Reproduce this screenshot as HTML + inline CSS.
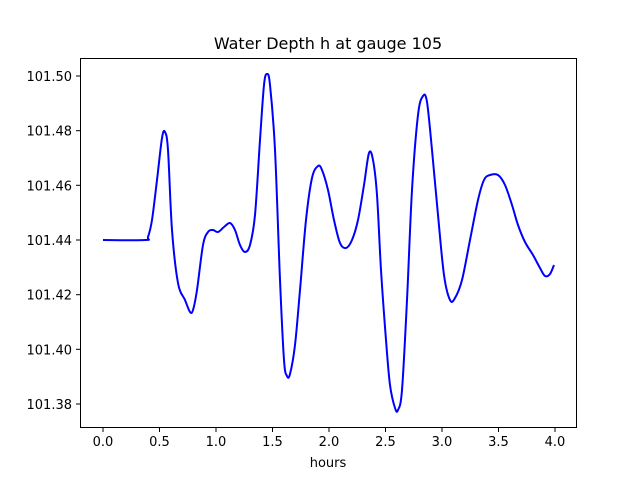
<!DOCTYPE html>
<html><head><style>body{margin:0;background:#fff}svg{display:block}text{font-family:"DejaVu Sans","Liberation Sans",sans-serif;font-size:13px;fill:#000}</style></head><body>
<svg width="640" height="480" xmlns="http://www.w3.org/2000/svg">
<rect width="640" height="480" fill="#fff"/>
<text x="328" y="49" text-anchor="middle" style="font-size:16px">Water Depth h at gauge 105</text>
<path id="curve" fill="none" stroke="#0000ff" stroke-width="2" stroke-linejoin="round" d=""/>
<rect x="80.5" y="58.5" width="496" height="369" fill="none" stroke="#000" stroke-width="1"/>
<g stroke="#000">
<line x1="103" y1="428" x2="103" y2="432"/><line x1="159.5" y1="428" x2="159.5" y2="432"/><line x1="216" y1="428" x2="216" y2="432"/><line x1="272.5" y1="428" x2="272.5" y2="432"/><line x1="329" y1="428" x2="329" y2="432"/><line x1="385.5" y1="428" x2="385.5" y2="432"/><line x1="442" y1="428" x2="442" y2="432"/><line x1="498.5" y1="428" x2="498.5" y2="432"/><line x1="555" y1="428" x2="555" y2="432"/>
<line x1="76" y1="76" x2="80" y2="76"/><line x1="76" y1="130.7" x2="80" y2="130.7"/><line x1="76" y1="185.3" x2="80" y2="185.3"/><line x1="76" y1="240" x2="80" y2="240"/><line x1="76" y1="294.7" x2="80" y2="294.7"/><line x1="76" y1="349.3" x2="80" y2="349.3"/><line x1="76" y1="404" x2="80" y2="404"/>
</g>
<g text-anchor="middle">
<text x="103" y="446">0.0</text><text x="159.5" y="446">0.5</text><text x="216" y="446">1.0</text><text x="272.5" y="446">1.5</text><text x="329" y="446">2.0</text><text x="385.5" y="446">2.5</text><text x="442" y="446">3.0</text><text x="498.5" y="446">3.5</text><text x="555" y="446">4.0</text>
<text x="328" y="467">hours</text>
</g>
<g text-anchor="end">
<text x="72" y="81">101.50</text><text x="72" y="135.7">101.48</text><text x="72" y="190.3">101.46</text><text x="72" y="245">101.44</text><text x="72" y="299.7">101.42</text><text x="72" y="354.3">101.40</text><text x="72" y="409">101.38</text>
</g>
</svg>
<script>
var p=[103,240,145,240,148,237,152,220,157,180,162,138,165,132,168,150,172,230,178,283,185,300,190,312,193,310,197,290,203,245,208,232,213,230,218,232,224,227,230,223,235,230,240,245,245,252,250,245,255,215,260,140,264,85,267,74,270,85,275,150,280,280,284,360,287,376,290,374,295,345,300,290,306,220,312,178,318,166,322,170,328,190,334,220,340,243,346,248,352,240,358,220,364,185,369,153,373,160,377,195,381,270,386,340,390,385,395,408,398,410,402,390,407,300,412,190,418,115,423,96,427,102,432,150,438,215,444,275,450,300,455,298,462,280,470,240,478,200,484,180,490,175,498,175,505,185,512,205,518,225,525,242,533,255,540,268,545,276,550,274,554,265];
var pts=[];for(var i=0;i<p.length;i+=2)pts.push([p[i],p[i+1]]);
var d="M"+pts[0][0]+","+pts[0][1];
for(var i=0;i<pts.length-1;i++){var a=pts[Math.max(i-1,0)],b=pts[i],c=pts[i+1],e=pts[Math.min(i+2,pts.length-1)];
d+=" C"+(b[0]+(c[0]-a[0])/6)+","+(b[1]+(c[1]-a[1])/6)+" "+(c[0]-(e[0]-b[0])/6)+","+(c[1]-(e[1]-b[1])/6)+" "+c[0]+","+c[1];}
document.getElementById("curve").setAttribute("d",d);
</script>
</body></html>
